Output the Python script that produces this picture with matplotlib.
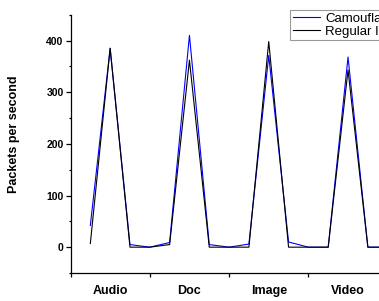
import matplotlib
matplotlib.use("Agg")
import matplotlib.pyplot as plt
from matplotlib.ticker import MultipleLocator

plt.rcParams['font.family'] = ['Liberation Sans', 'DejaVu Sans']

categories = ["Audio", "Doc", "Image", "Video"]
x_index = list(range(16))
camouflaged = [42, 385, 5, 0, 9, 410, 5, 0, 6, 371, 10, 0, 0, 368, 0, 0]
regular = [7, 385, 0, 0, 5, 362, 0, 0, 0, 398, 0, 0, 0, 343, 0, 0]
category_pos = [1, 5, 9, 13]
group_edges = [-1, 3, 7, 11, 15]

W, H = 379, 301
fig = plt.figure(figsize=(W / 100, H / 100), dpi=100)
ax = fig.add_axes([70.5 / W, 28 / H, 337 / W, 258.3 / H])

ax.plot(x_index, camouflaged, color='#0000ff', lw=0.8, label='Camouflaged')
ax.plot(x_index, regular, color='#000000', lw=0.8, label='Regular IoT')

ax.set_xlim(-1, 16)
ax.set_ylim(-50, 450)
ax.spines['top'].set_visible(False)
ax.spines['right'].set_visible(False)
for s in ('left', 'bottom'):
    ax.spines[s].set_linewidth(0.9)

ax.yaxis.set_major_locator(MultipleLocator(100))
ax.yaxis.set_minor_locator(MultipleLocator(50))
ax.set_yticks([0, 100, 200, 300, 400])
ax.tick_params(axis='y', which='major', direction='out', length=3.5, width=0.9, pad=1.5,
               labelsize=7.5)
ax.tick_params(axis='y', which='minor', direction='out', length=1.8, width=0.9)
for lab in ax.get_yticklabels():
    lab.set_fontweight('bold')

ax.set_xticks(group_edges)
ax.set_xticklabels([''] * len(group_edges))
ax.set_xticks(category_pos, minor=True)
ax.set_xticklabels(categories, minor=True, fontweight='bold', fontsize=9)
ax.tick_params(axis='x', which='major', direction='out', length=3, width=0.9)
ax.tick_params(axis='x', which='minor', length=0, pad=8.3)

ax.set_ylabel('Packets per second', fontsize=9, fontweight='bold')
ax.yaxis.set_label_coords(-(70.5 - 20) / 337, 0.538)

fig.legend(loc='upper left', bbox_to_anchor=(290 / W, 1 - 10 / H), borderaxespad=0,
           fontsize=9.5, frameon=True, fancybox=False, edgecolor='#808080',
           handlelength=2.04, handletextpad=0.45, borderpad=0.2, labelspacing=0.05)
leg = fig.legends[0]
leg.get_frame().set_linewidth(0.8)

fig.savefig('out.png', dpi=100)
